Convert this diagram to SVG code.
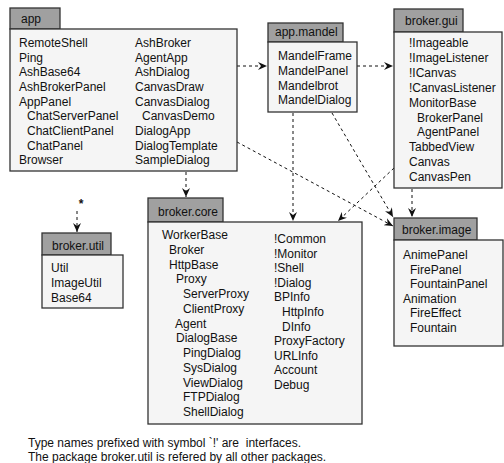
<svg xmlns="http://www.w3.org/2000/svg" width="504" height="463" viewBox="0 0 504 463">
<style>
text{font-family:"Liberation Sans",Arial,sans-serif;font-size:12px;fill:#111}
.tab{fill:#a0a0a0;stroke:#333;stroke-width:1.3}
.body{fill:#f5f5f5;stroke:#333;stroke-width:1.3}
.c{fill:none;stroke:#111;stroke-width:1;stroke-dasharray:3,3}
</style>
<defs>
<marker id="ah" markerUnits="userSpaceOnUse" markerWidth="10" markerHeight="8" refX="9" refY="4" orient="auto">
<path d="M0,0 L9,4 L0,8 L3,4 Z" fill="#111"/>
</marker>
</defs>
<rect width="504" height="463" fill="#fff"/>
<g id="connectors">
<line class="c" x1="237" y1="66" x2="267" y2="66" marker-end="url(#ah)"/>
<line class="c" x1="357" y1="66" x2="393" y2="66" marker-end="url(#ah)"/>
<line class="c" x1="186" y1="172" x2="186" y2="197" marker-end="url(#ah)"/>
<line class="c" x1="237" y1="142" x2="393" y2="226" marker-end="url(#ah)"/>
<line class="c" x1="293" y1="113" x2="293" y2="221" marker-end="url(#ah)"/>
<line class="c" x1="332" y1="113" x2="393" y2="217" marker-end="url(#ah)"/>
<line class="c" x1="394" y1="168" x2="338" y2="221" marker-end="url(#ah)"/>
<line class="c" x1="412" y1="189" x2="412" y2="217" marker-end="url(#ah)"/>
<line class="c" x1="77" y1="211" x2="77" y2="232" marker-end="url(#ah)"/>
<text x="81" y="208" text-anchor="middle" style="font-weight:bold">*</text>
</g>
<g id="app">
<rect class="tab" x="10" y="8" width="50" height="21"/>
<rect class="body" x="10" y="29" width="227" height="142"/>
<text x="21" y="23">app</text>
<text x="19" y="47">RemoteShell</text>
<text x="19" y="61.6">Ping</text>
<text x="19" y="76.3">AshBase64</text>
<text x="19" y="90.9">AshBrokerPanel</text>
<text x="19" y="105.6">AppPanel</text>
<text x="27" y="120.2">ChatServerPanel</text>
<text x="27" y="134.9">ChatClientPanel</text>
<text x="27" y="149.5">ChatPanel</text>
<text x="19" y="164.2">Browser</text>
<text x="135" y="47">AshBroker</text>
<text x="135" y="61.6">AgentApp</text>
<text x="135" y="76.3">AshDialog</text>
<text x="135" y="90.9">CanvasDraw</text>
<text x="135" y="105.6">CanvasDialog</text>
<text x="142" y="120.2">CanvasDemo</text>
<text x="135" y="134.9">DialogApp</text>
<text x="135" y="149.5">DialogTemplate</text>
<text x="135" y="164.2">SampleDialog</text>
</g>
<g id="app.mandel">
<rect class="tab" x="268" y="23" width="75" height="19"/>
<rect class="body" x="268" y="42" width="89" height="70"/>
<text x="275" y="36">app.mandel</text>
<text x="278" y="60">MandelFrame</text>
<text x="278" y="74.8">MandelPanel</text>
<text x="278" y="89.6">Mandelbrot</text>
<text x="278" y="104.4">MandelDialog</text>
</g>
<g id="broker.gui">
<rect class="tab" x="394" y="9" width="69" height="23"/>
<rect class="body" x="394" y="32" width="108" height="156"/>
<text x="405" y="25">broker.gui</text>
<text x="409" y="47">!Imageable</text>
<text x="409" y="61.9">!ImageListener</text>
<text x="409" y="76.8">!ICanvas</text>
<text x="409" y="91.7">!CanvasListener</text>
<text x="409" y="106.6">MonitorBase</text>
<text x="417" y="121.5">BrokerPanel</text>
<text x="417" y="136.4">AgentPanel</text>
<text x="409" y="151.3">TabbedView</text>
<text x="409" y="166.2">Canvas</text>
<text x="409" y="181.1">CanvasPen</text>
</g>
<g id="broker.core">
<rect class="tab" x="148" y="198" width="75" height="24"/>
<rect class="body" x="148" y="222" width="214" height="202"/>
<text x="158" y="216">broker.core</text>
<text x="162" y="239">WorkerBase</text>
<text x="169" y="253.8">Broker</text>
<text x="169" y="268.5">HttpBase</text>
<text x="176" y="283.3">Proxy</text>
<text x="183" y="298">ServerProxy</text>
<text x="183" y="312.8">ClientProxy</text>
<text x="175" y="327.5">Agent</text>
<text x="176" y="342.3">DialogBase</text>
<text x="183" y="357">PingDialog</text>
<text x="183" y="371.8">SysDialog</text>
<text x="183" y="386.5">ViewDialog</text>
<text x="183" y="401.3">FTPDialog</text>
<text x="183" y="416">ShellDialog</text>
<text x="274" y="243">!Common</text>
<text x="274" y="257.6">!Monitor</text>
<text x="274" y="272.2">!Shell</text>
<text x="274" y="286.8">!Dialog</text>
<text x="274" y="301.4">BPInfo</text>
<text x="282" y="316">HttpInfo</text>
<text x="282" y="330.6">DInfo</text>
<text x="274" y="345.2">ProxyFactory</text>
<text x="274" y="359.8">URLInfo</text>
<text x="274" y="374.4">Account</text>
<text x="274" y="389">Debug</text>
</g>
<g id="broker.util">
<rect class="tab" x="42" y="233" width="69" height="22"/>
<rect class="body" x="42" y="255" width="81" height="53"/>
<text x="52" y="250">broker.util</text>
<text x="51" y="272">Util</text>
<text x="51" y="287">ImageUtil</text>
<text x="51" y="302">Base64</text>
</g>
<g id="broker.image">
<rect class="tab" x="394" y="218" width="83" height="22"/>
<rect class="body" x="394" y="240" width="109" height="106"/>
<text x="402" y="234">broker.image</text>
<text x="403" y="259">AnimePanel</text>
<text x="410" y="273.6">FirePanel</text>
<text x="410" y="288.2">FountainPanel</text>
<text x="403" y="302.8">Animation</text>
<text x="410" y="317.4">FireEffect</text>
<text x="410" y="332">Fountain</text>
</g>
<g id="notes">
<text x="28" y="447" style="white-space:pre" xml:space="preserve">Type names prefixed with symbol `!' are  interfaces.</text>
<text x="28" y="461">The package broker.util is refered by all other packages.</text>
</g>
</svg>
